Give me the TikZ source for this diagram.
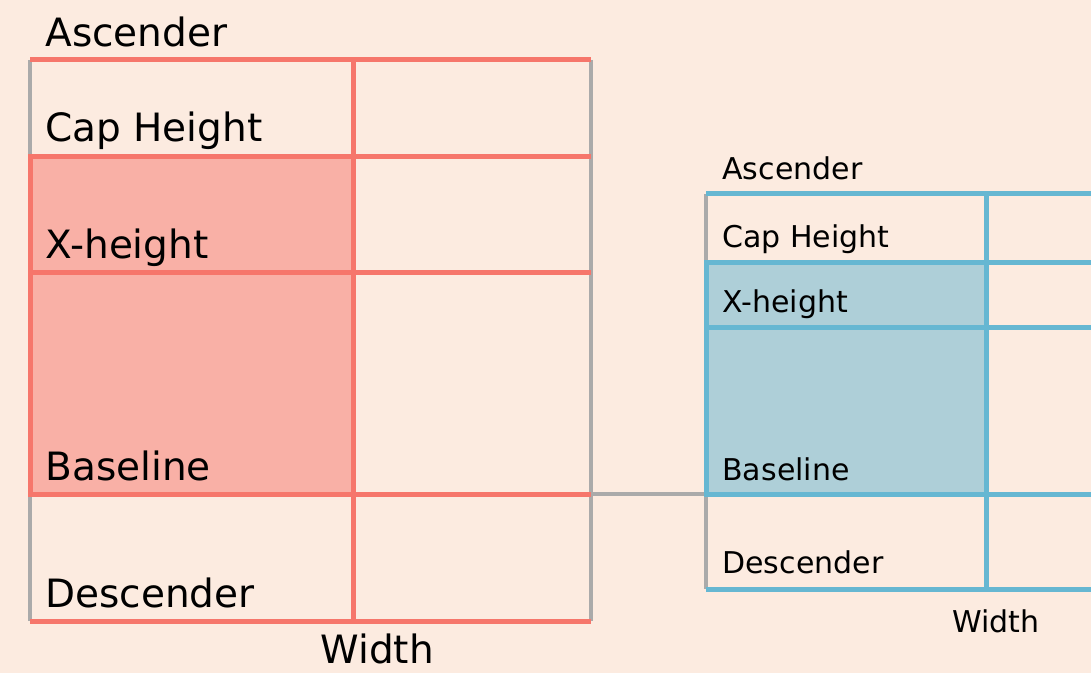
\documentclass[tikz,border=0pt]{standalone}
\usepackage{fontspec}
\setmainfont{DejaVu Sans}
\usepackage{tikz}

\definecolor{paper}{RGB}{252,235,224}
\definecolor{salmon}{RGB}{246,118,107}
\definecolor{salmonfill}{RGB}{249,176,166}
\definecolor{sky}{RGB}{102,183,210}
\definecolor{skyfill}{RGB}{174,207,216}
\definecolor{rule}{RGB}{170,170,170}

\tikzset{
  biglabel/.style={anchor=base west, inner sep=0pt, font=\fontsize{19.5}{23}\selectfont},
  smalllabel/.style={anchor=base west, inner sep=0pt, font=\fontsize{15}{18}\selectfont},
  greyline/.style={rule, line width=2pt},
  redline/.style={salmon, line width=2.5pt},
  blueline/.style={sky, line width=2.5pt}
}

\begin{document}
\begin{tikzpicture}[x=0.5pt,y=-0.5pt]
        \fill[paper] (0,0) rectangle (1091,673);
        \useasboundingbox (0,0) rectangle (1091,673);

        \coordinate (lt) at (30,60);
        \coordinate (lb) at (30,621);
        \coordinate (rt) at (591,60);
        \coordinate (rb) at (591,621);
        \coordinate (lbase) at (591,494);
        \coordinate (sbase) at (706,494);
        \coordinate (st) at (706,194);
        \coordinate (sb) at (706,589);

        \draw[greyline] (lt) -- (lb);
        \draw[greyline] (rt) -- (rb);
        \draw[greyline] (st) -- (sb);
        \draw[greyline] (lbase) -- (sbase);

        \filldraw[salmonfill, draw=salmon, line width=2.5pt] (30,157) rectangle (353,494);
        \draw[redline] (30,60) -- (591,60);
        \draw[redline] (30,157) -- (591,157);
        \draw[redline] (30,273) -- (591,273);
        \draw[redline] (30,494) -- (591,494);
        \draw[redline] (30,621) -- (591,621);
        \draw[redline] (353,60) -- (353,621);

        \filldraw[skyfill, draw=sky, line width=2.5pt] (706,263) rectangle (986,494);
        \draw[blueline] (706,328) -- (986,328);
        \draw[blueline] (706,194) -- (1091,194);
        \draw[blueline] (706,263) -- (1091,263);
        \draw[blueline] (986,328) -- (1091,328);
        \draw[blueline] (706,494) -- (1091,494);
        \draw[blueline] (706,589) -- (1091,589);
        \draw[blueline] (986,194) -- (986,589);

        \node[biglabel] (asc) at (45,47) {Ascender};
        \node[biglabel] (cap) at (45,142) {Cap Height};
        \node[biglabel] (xh) at (45,259) {X-height};
        \node[biglabel] (base) at (45,480) {Baseline};
        \node[biglabel] (desc) at (45,607) {Descender};
        \node[biglabel] (wid) at (320,663) {Width};

        \node[smalllabel] (asc2) at (722,180) {Ascender};
        \node[smalllabel] (cap2) at (722,248) {Cap Height};
        \node[smalllabel] (xh2) at (722,313) {X-height};
        \node[smalllabel] (base2) at (722,480) {Baseline};
        \node[smalllabel] (desc2) at (722,573) {Descender};
        \node[smalllabel] (wid2) at (952,632) {Width};
       \end{tikzpicture}
\end{document}
